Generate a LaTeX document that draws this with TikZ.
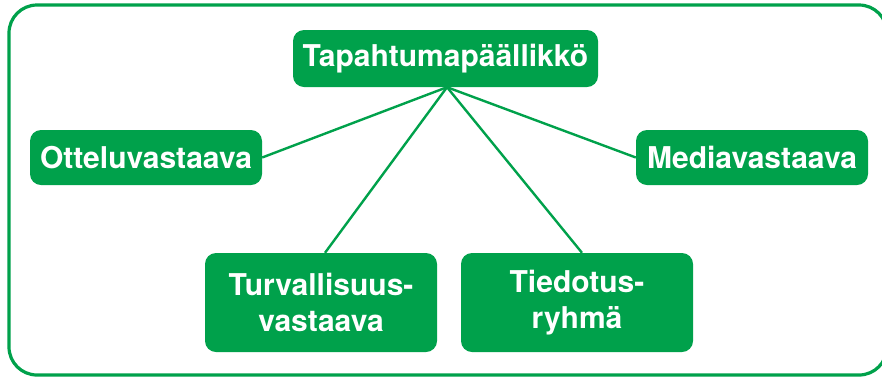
\documentclass[tikz,border=0pt]{standalone}
\usepackage{fontspec}
\setmainfont{TeX Gyre Heros}
\usepackage{tikz}
\definecolor{orggreen}{HTML}{00A14B}

\tikzset{
    role/.style={fill=orggreen, text=white, rounded corners=11pt, inner sep=0pt,
        font=\fontsize{30}{36}\selectfont\bfseries, align=center},
    link/.style={orggreen, line width=2.4pt}
}

\begin{document}
\begin{tikzpicture}[x=1pt, y=-1pt]

        \useasboundingbox (0,0) rectangle (882,376);

        \draw[orggreen, line width=3.2pt, rounded corners=28pt] (9,5) rectangle (887,375);

        \node[role, minimum width=305pt, minimum height=57pt] (boss) at (445.5,58.5) {Tapahtumapäällikkö};

        \node[role, minimum width=232pt, minimum height=55pt] (match) at (146,157.5) {Otteluvastaava};

        \node[role, minimum width=232pt, minimum height=55pt] (media) at (752,157.5) {Mediavastaava};

        \node[role, minimum width=232pt, minimum height=99pt] (safety) at (321,302.5) {Turvallisuus-\\vastaava};

        \node[role, minimum width=232pt, minimum height=99pt] (info) at (577,302.5) {Tiedotus-\\ryhmä};

        \coordinate (hub) at ([xshift=1.5pt]boss.south);

        \draw[link] (hub) -- (match.east);
        \draw[link] (hub) -- (media.west);
        \draw[link] (hub) -- ([xshift=4pt]safety.north);
        \draw[link] (hub) -- ([xshift=5pt]info.north);

    \end{tikzpicture}
\end{document}
